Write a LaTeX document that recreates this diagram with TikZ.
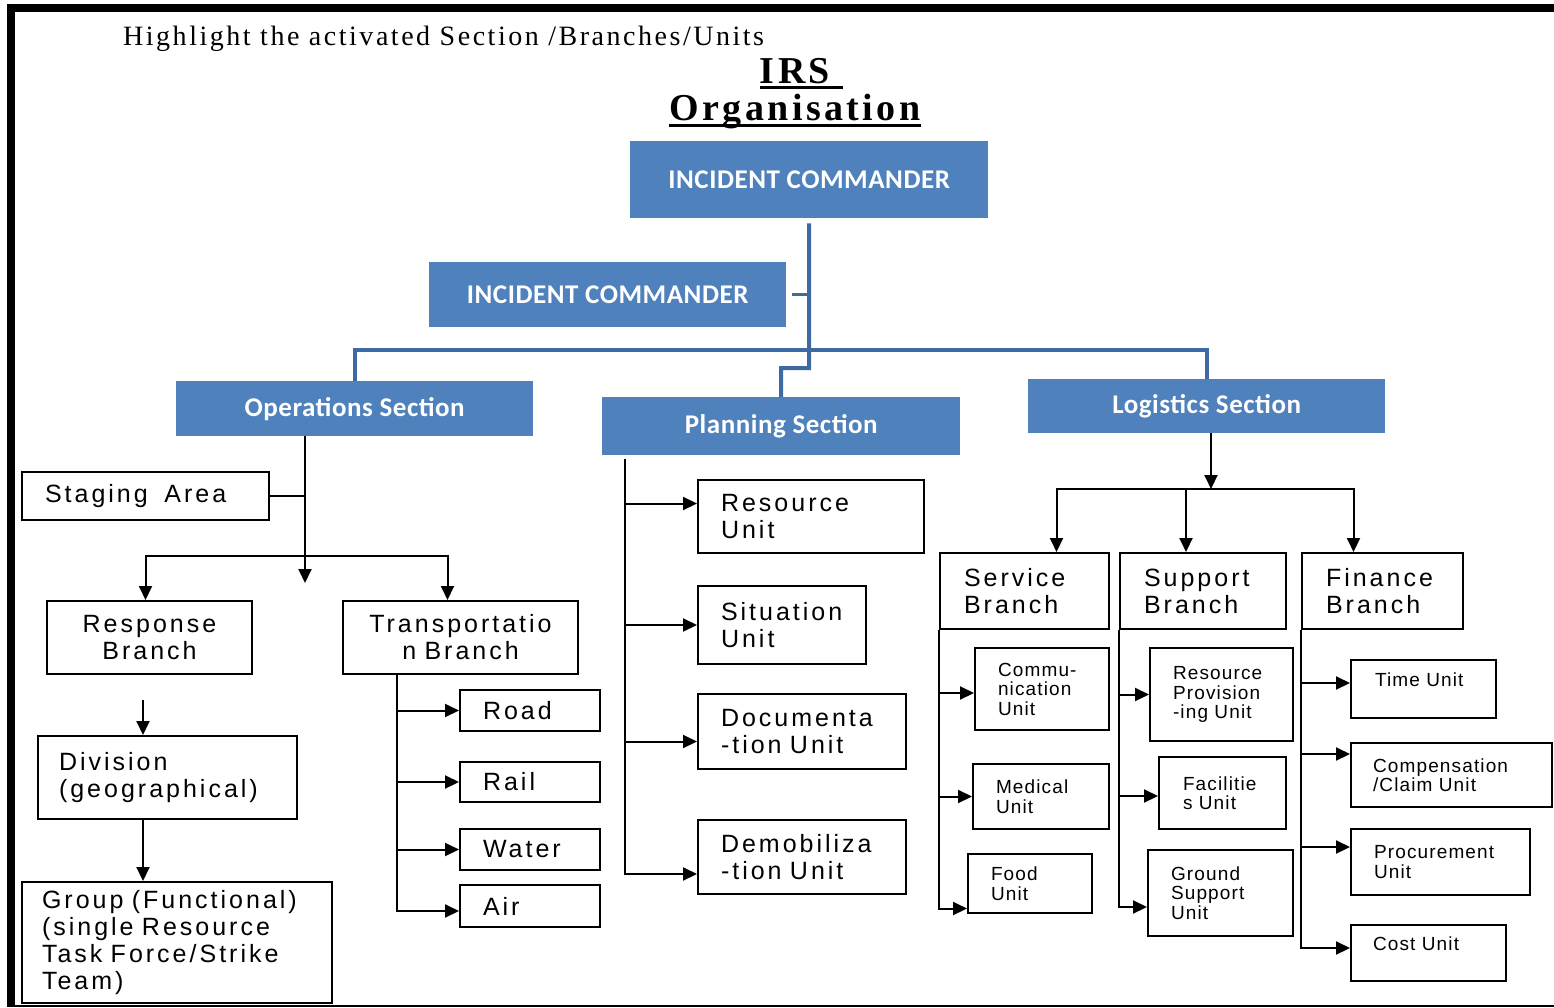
\documentclass[tikz,border=0pt]{standalone}
\usepackage{fontspec}
\usepackage{tikz}
\usetikzlibrary{positioning,arrows.meta}
\newfontfamily\unitfont[LetterSpace=12]{Liberation Sans}
\newfontfamily\smallfont[LetterSpace=6]{Liberation Sans}
\newfontfamily\bluefont[LetterSpace=2]{Carlito}
\newfontfamily\serifspaced[LetterSpace=9]{Liberation Serif}
\newcommand{\bigunit}{\unitfont\fontsize{25}{27}\selectfont}
\newcommand{\smallunit}{\smallfont\fontsize{19}{19.5}\selectfont}
\definecolor{icblue}{HTML}{4F81BD}
\definecolor{icline}{HTML}{3D6AA2}
\hyphenpenalty=10000
\exhyphenpenalty=10000

\begin{document}
\begin{tikzpicture}[
            x=1pt, y=-1pt,
            section/.style={rectangle, fill=icblue, anchor=north west, inner sep=0pt, text=white, font=\bluefont\bfseries\fontsize{27}{30}\selectfont},
            unit/.style={rectangle, draw, line width=2pt, anchor=north west, align=left, inner xsep=23pt, inner ysep=2pt, font=\bigunit},
            smallunit/.style={unit, font=\smallunit},
            blueline/.style={draw=icline, line width=4pt},
            arrow/.style={-{Triangle[length=14pt,width=13pt]}, line width=2pt},
            plain/.style={line width=2pt}
        ]
        \useasboundingbox (0,0) rectangle (1554,1008);
        \fill (7,4) rectangle (1554,12);
        \fill (7,4) rectangle (15,1005);
        \draw[line width=2pt] (7,1006) -- (1554,1006);

        \node[anchor=base west, inner sep=0pt, font=\serifspaced\fontsize{28}{32}\selectfont] (hint) at (123,46) {Highlight the activated Section /Branches/Units};
        \node[anchor=base, inner sep=0pt, font=\serifspaced\bfseries\fontsize{38}{42}\selectfont] (irs) at (795,84) {IRS};
        \node[anchor=base, inner sep=0pt, font=\serifspaced\bfseries\fontsize{38}{42}\selectfont] (org) at (795,121) {Organisation};
        \draw[line width=3pt] ([yshift=-4pt]irs.base west) -- ([xshift=13pt,yshift=-4pt]irs.base east);
        \draw[line width=3pt] ([yshift=-5pt]org.base west) -- ([yshift=-5pt]org.base east);

        \node[section, minimum width=358pt, minimum height=77pt] (ic1) at (630,141) {INCIDENT COMMANDER};
        \node[section, minimum width=357pt, minimum height=65pt] (ic2) at (429,262) {INCIDENT COMMANDER};
        \node[section, minimum width=357pt, minimum height=55pt] (ops) at (176,381) {Operations Section};
        \node[section, minimum width=358pt, minimum height=58pt] (plan) at (602,397) {Planning Section};
        \node[section, minimum width=357pt, minimum height=54pt] (log) at (1028,379) {Logistics Section};

        \node[unit, text width=201pt, minimum height=48pt] (stage) at (21,471) {Staging~~Area};
        \node[unit, align=center, inner xsep=5pt, text width=195pt, minimum height=73pt] (resp) at (46,600) {Response\\Branch};
        \node[unit, align=center, inner xsep=5pt, text width=225pt, minimum height=73pt] (trans) at (342,600) {Transportatio\\n Branch};
        \node[unit, inner xsep=21pt, text width=217pt, minimum height=83pt] (div) at (37,735) {Division\\(geographical)};
        \node[unit, inner xsep=20pt, text width=270pt, minimum height=121pt] (grp) at (21,881) {Group (Functional)\\(single Resource\\Task Force/Strike\\Team)};
        \node[unit, text width=94pt, minimum height=41pt] (road) at (459,689) {Road};
        \node[unit, text width=94pt, minimum height=40pt] (rail) at (459,761) {Rail};
        \node[unit, text width=94pt, minimum height=41pt] (water) at (459,828) {Water};
        \node[unit, text width=94pt, minimum height=42pt] (air) at (459,884) {Air};

        \node[unit, text width=180pt, minimum height=73pt] (res) at (697,479) {Resource\\Unit};
        \node[unit, text width=122pt, minimum height=78pt] (sit) at (697,585) {Situation\\Unit};
        \node[unit, text width=162pt, minimum height=75pt] (doc) at (697,693) {Documenta\\-tion Unit};
        \node[unit, text width=162pt, minimum height=74pt] (dem) at (697,819) {Demobiliza\\-tion Unit};

        \node[unit, inner xsep=24pt, text width=121pt, minimum height=76pt] (serv) at (939,552) {Service\\Branch};
        \node[unit, inner xsep=24pt, text width=118pt, minimum height=76pt] (supp) at (1119,552) {Support\\Branch};
        \node[unit, inner xsep=24pt, text width=113pt, minimum height=76pt] (fin) at (1301,552) {Finance\\Branch};

        \node[smallunit, text width=88pt, minimum height=82pt] (comm) at (974,647) {Commu-\\nication\\Unit};
        \node[smallunit, text width=90pt, minimum height=65pt] (med) at (972,763) {Medical\\Unit};
        \node[smallunit, text width=78pt, minimum height=59pt] (food) at (967,853) {Food\\Unit};
        \node[smallunit, text width=97pt, minimum height=93pt] (rprov) at (1149,647) {Resource\\Provision\\-ing Unit};
        \node[smallunit, inner xsep=24pt, text width=79pt, minimum height=72pt] (fac) at (1158,756) {Facilitie\\s Unit};
        \node[smallunit, text width=99pt, minimum height=86pt] (grd) at (1147,849) {Ground\\Support\\Unit};
        \node[smallunit, inner xsep=24pt, text width=97pt, minimum height=58pt] (time) at (1350,659) {Time Unit\\\mbox{}};
        \node[smallunit, inner xsep=22pt, text width=157pt, minimum height=64pt] (comp) at (1350,742) {Compensation\\/Claim Unit};
        \node[smallunit, text width=133pt, minimum height=66pt] (proc) at (1350,828) {Procurement\\Unit};
        \node[smallunit, inner xsep=22pt, text width=111pt, minimum height=56pt] (cost) at (1350,924) {Cost Unit\\\mbox{}};

        \coordinate (icjog) at (809,368);
        \coordinate (icbar) at (809,350);
        \draw[blueline, shorten <=5pt] (ic1.south) -- (icjog) -| (plan.north);
        \draw[blueline] (ops.north) |- (icbar) -| (log.north);
        \draw[blueline, line width=2.5pt, shorten <=6pt] (ic2.east) -- (ic2.east -| icbar);

        \coordinate (opsend) at (305,583);
        \coordinate (opsbar) at (305,556);
        \coordinate (divin) at (143,700);
        \coordinate (tsp) at (397,673);
        \draw[arrow] (ops.south -| opsend) -- (opsend);
        \draw[plain] (stage.east) -- (stage.east -| opsend);
        \draw[arrow] (opsbar) -| ([xshift=-4pt]resp.north);
        \draw[arrow] (opsbar) -| ([xshift=-13pt]trans.north);
        \draw[arrow] (divin) -- (divin |- div.north);
        \draw[arrow] (div.south -| divin) -- (grp.north -| divin);
        \draw[arrow] (tsp) |- (road.west);
        \draw[arrow] (tsp) |- (rail.west);
        \draw[arrow] (tsp) |- (water.west);
        \draw[arrow] (tsp) |- ([yshift=-5pt]air.west);

        \coordinate (psp) at (625,459);
        \draw[arrow] (psp) |- ([yshift=13pt]res.west);
        \draw[arrow] (psp) |- (sit.west);
        \draw[arrow] (psp) |- ([yshift=-10pt]doc.west);
        \draw[arrow] (psp) |- ([yshift=-17pt]dem.west);

        \coordinate (logbar) at (1211,489);
        \draw[arrow] (log.south -| logbar) -- (logbar);
        \draw[arrow] (logbar) -| ([xshift=32pt]serv.north);
        \draw[arrow] (logbar) -| ([xshift=-17pt]supp.north);
        \draw[arrow] (logbar) -| ([xshift=-29pt]fin.north);
        \draw[arrow] (serv.south west) |- ([yshift=-4pt]comm.west);
        \draw[arrow] (serv.south west) |- (med.west);
        \draw[arrow] (serv.south west) |- ([yshift=-25pt]food.west);
        \draw[arrow] (supp.south west) |- (rprov.west);
        \draw[arrow] (supp.south west) |- ([yshift=-3pt]fac.west);
        \draw[arrow] (supp.south west) |- ([yshift=-14pt]grd.west);
        \draw[arrow] (fin.south west) |- ([yshift=6pt]time.west);
        \draw[arrow] (fin.south west) |- ([yshift=21pt]comp.west);
        \draw[arrow] (fin.south west) |- ([yshift=15pt]proc.west);
        \draw[arrow] (fin.south west) |- ([yshift=5pt]cost.west);
        \end{tikzpicture}
\end{document}
